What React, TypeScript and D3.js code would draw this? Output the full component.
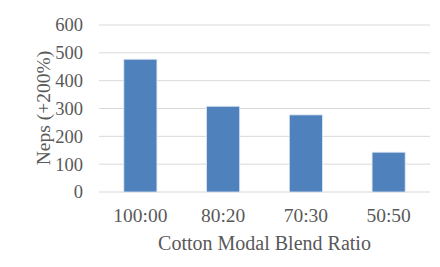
import React from "react";
import * as d3 from "d3";

const categories = ["100:00", "80:20", "70:30", "50:50"];
const neps = [477, 308, 277, 143];
const yTicks = [0, 100, 200, 300, 400, 500, 600];
const xTitle = "Cotton Modal Blend Ratio";
const yTitle = "Neps (+200%)";

export default function App() {
  const W = 440, H = 267;
  const left = 99, right = 430, top = 25, bottom = 192;
  const x = d3.scaleBand<string>().domain(categories).range([left, right]).paddingInner(0.6).paddingOuter(0.3);
  const y = d3.scaleLinear().domain([0, 600]).range([bottom, top]);
  const font = "'Liberation Serif', 'Times New Roman', serif";
  const textColor = "#595959";
  return (
    <svg width={W} height={H} style={{ position: "absolute", left: 0, top: 0, background: "#fff" }} fontFamily={font}>
      {yTicks.map((t) => (
        <g key={t}>
          <line x1={left} x2={right} y1={y(t)} y2={y(t)} stroke="#D9D9D9" strokeWidth={1} />
          <text x={83} y={y(t)} dy="0.35em" textAnchor="end" fontSize={18.5} fill={textColor}>{t}</text>
        </g>
      ))}
      {categories.map((c, i) => (
        <rect key={c} x={x(c)!} y={y(neps[i])} width={x.bandwidth()} height={bottom - y(neps[i])}
          fill="#4F81BD" stroke="#DCE6F2" strokeWidth={0.8} />
      ))}
      {categories.map((c) => (
        <text key={c} x={x(c)! + x.bandwidth() / 2} y={222} textAnchor="middle" fontSize={19.5} fill={textColor}>{c}</text>
      ))}
      <text x={(left + right) / 2} y={250} textAnchor="middle" fontSize={20} fill={textColor}>{xTitle}</text>
      <text transform={`translate(50,108) rotate(-90)`} textAnchor="middle" fontSize={19.5} fill={textColor}>{yTitle}</text>
    </svg>
  );
}
